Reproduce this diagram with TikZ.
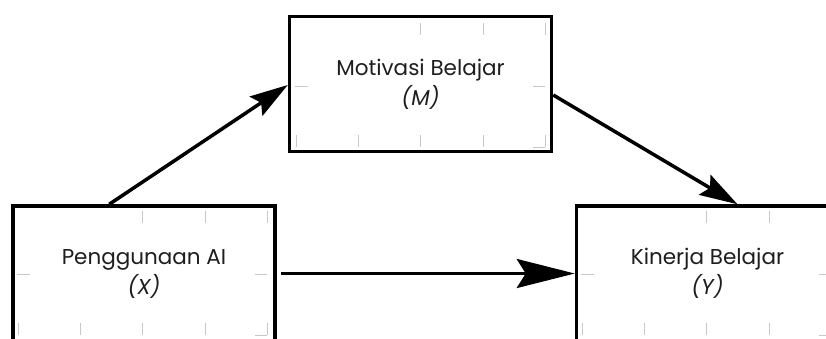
\documentclass[tikz,border=0pt]{standalone}
\usepackage{fontspec}
\setmainfont{Poppins}
\usetikzlibrary{arrows.meta}
\definecolor{txt}{HTML}{1E1E1E}
\definecolor{tick}{HTML}{C8C8C8}
\tikzset{
  var/.style={draw=black, line width=3.5bp, minimum width=262bp, minimum height=135bp,
    inner sep=0pt, align=center, text=txt, font=\fontsize{21.5bp}{30bp}\selectfont},
  link/.style={line width=3.5bp, black},
  bighead/.style={-{Stealth[length=58bp, width=29bp, inset=9bp]}},
  smallhead/.style={-{Stealth[length=38bp, width=23bp, inset=6bp]}},
  ticks/.style={draw=tick, line width=1bp}
}
% faint guide ticks inside a box whose top-left corner is given
\newcommand{\guideticks}[2]{%
  \begin{scope}[shift={(#1,#2)}]
    \foreach \u in {130,193,255} \draw[ticks] (\u,5) -- (\u,17);
    \draw[ticks] (5,68) -- (18,68);
    \draw[ticks] (243,68) -- (255,68);
    \foreach \u in {6,68,130,193,255} \draw[ticks] (\u,117) -- (\u,129);
    \draw[ticks] (243,129) -- (255,129);
  \end{scope}}
\begin{document}
\begin{tikzpicture}[x=1bp, y=-1bp]
  \useasboundingbox (0,0) rectangle (826,338);
  \clip (0,0) rectangle (826,338);
  \fill[white] (0,0) rectangle (826,338);

  \guideticks{290}{18}
  \guideticks{12}{206}
  \guideticks{576}{206}

  \node[var] (M) at (420.5,84) {Motivasi Belajar\\\textit{(M)}};
  \node[var] (X) at (144,273.5) {Penggunaan AI\\\textit{(X)}};
  \node[var] (Y) at (707.5,273.5) {Kinerja Belajar\\\textit{(Y)}};

  \draw[link, smallhead] ([xshift=98bp]X.north west) -- ([yshift=-1bp]M.west);
  \draw[link, smallhead] ([yshift=-11bp]M.east) -- ([xshift=30bp]Y.north);
  \draw[link, bighead] ([xshift=4bp]X.east) -- (Y.west);
\end{tikzpicture}
\end{document}
